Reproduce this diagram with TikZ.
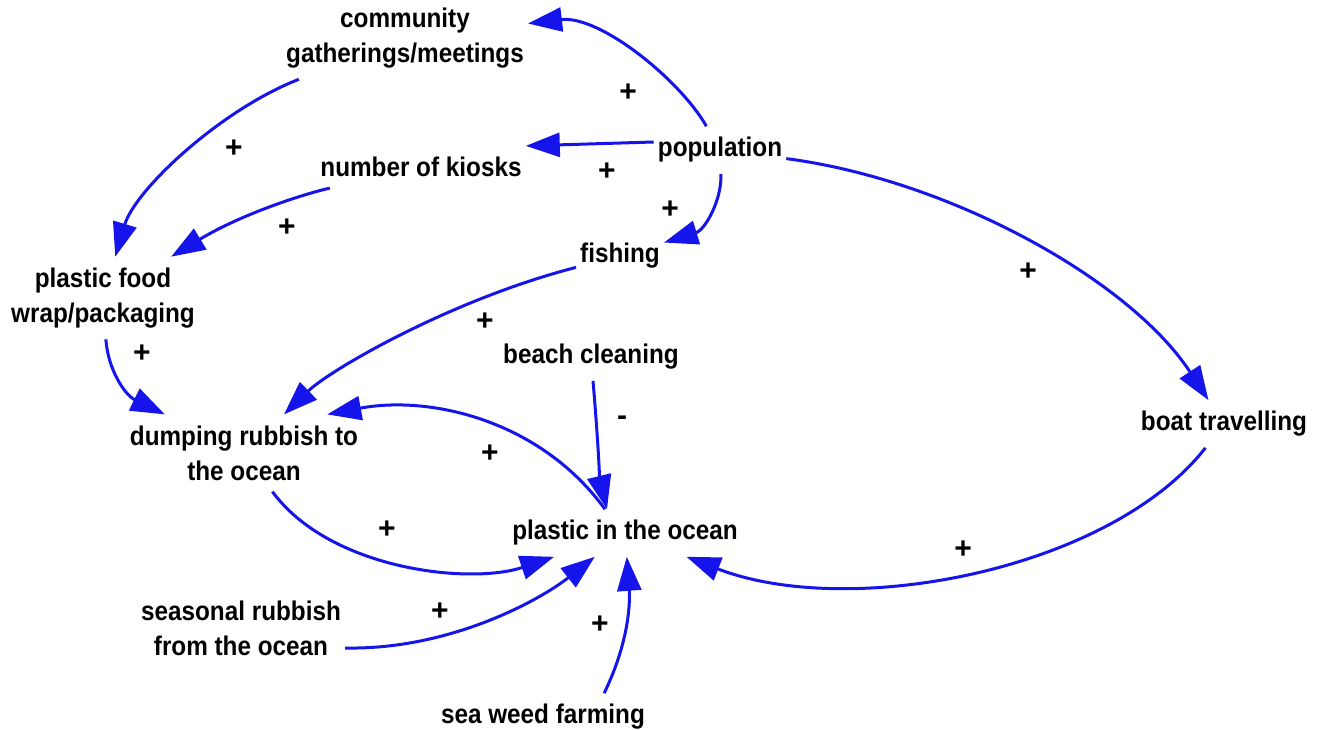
\documentclass[tikz,border=0pt]{standalone}
\usepackage{fontspec}
\setmainfont{Liberation Sans}[FakeStretch=0.9]
\newfontfamily\plusfont{Liberation Sans}
\usetikzlibrary{arrows.meta}
\definecolor{linkblue}{RGB}{20,20,235}
\begin{document}
\begin{tikzpicture}[x=1pt,y=-1pt,
 var/.style={font=\fontsize{27}{35}\selectfont\bfseries, align=center, inner xsep=4pt, inner ysep=11pt},
 pol/.style={font=\plusfont\fontsize{30}{30}\selectfont\bfseries, inner sep=0pt},
 link/.style={draw=linkblue, line width=3pt, -{Triangle[length=34pt,width=24pt]}}]
\useasboundingbox[fill=white] (0,0) rectangle (1324,730);

\node[var] (comm) at (405,38) {community\\gatherings/meetings};
\node[var] (pop) at (720,150) {population};
\node[var] (kiosk) at (421,167) {number of kiosks};
\node[var] (fish) at (620,256) {fishing};
\node[var] (food) at (103,298) {plastic food\\wrap/packaging};
\node[var] (beach) at (591,357) {beach cleaning};
\node[var] (dump) at (244,453) {dumping rubbish to\\the ocean};
\node[var] (boat) at (1224,424) {boat travelling};
\node[var] (plastic) at (625,533) {plastic in the ocean};
\node[var] (season) at (241,628) {seasonal rubbish\\from the ocean};
\node[var] (weed) at (543,717) {sea weed farming};

\draw[link] (pop) .. controls (680,80) and (600,15) .. (comm);
\draw[link] ([yshift=8pt]pop.west) -- (kiosk.north east);
\draw[link] (pop) .. controls (722,200) and (705,230) .. (fish);
\draw[link] (pop) .. controls (950,180) and (1130,280) .. (boat);
\draw[link] (boat) .. controls (1110,570) and (850,620) .. (plastic);
\draw[link] (comm) .. controls (220,110) and (135,190) .. (food);
\draw[link] (kiosk) .. controls (300,195) and (240,215) .. (food);
\draw[link] (food) .. controls (108,370) and (125,395) .. (dump);
\draw[link] (fish) .. controls (450,300) and (330,370) .. (dump);
\draw[link] (beach) .. controls (598,440) and (600,480) .. ([xshift=-18pt]plastic.north);
\draw[link] ([xshift=-20pt]plastic.north) .. controls (540,420) and (430,395) .. ([xshift=-35pt]dump.north east);
\draw[link] (dump) .. controls (330,570) and (470,585) .. (plastic);
\draw[link] ([yshift=-20pt]season.east) .. controls (450,650) and (540,600) .. (plastic);
\draw[link] ([xshift=-45pt]weed.north east) .. controls (630,640) and (630,600) .. (plastic);

\node[pol] (s1) at (628,93) {+};
\node[pol] (s2) at (607,172) {+};
\node[pol] (s3) at (670,210) {+};
\node[pol] (s4) at (1028,272) {+};
\node[pol] (s5) at (963,550) {+};
\node[pol] (s6) at (234,149) {+};
\node[pol] (s7) at (287,228) {+};
\node[pol] (s8) at (142,354) {+};
\node[pol] (s9) at (485,322) {+};
\node[pol] (s10) at (622,421) {-};
\node[pol] (s11) at (490,454) {+};
\node[pol] (s12) at (387,530) {+};
\node[pol] (s13) at (440,612) {+};
\node[pol] (s14) at (600,625) {+};
\end{tikzpicture}
\end{document}
